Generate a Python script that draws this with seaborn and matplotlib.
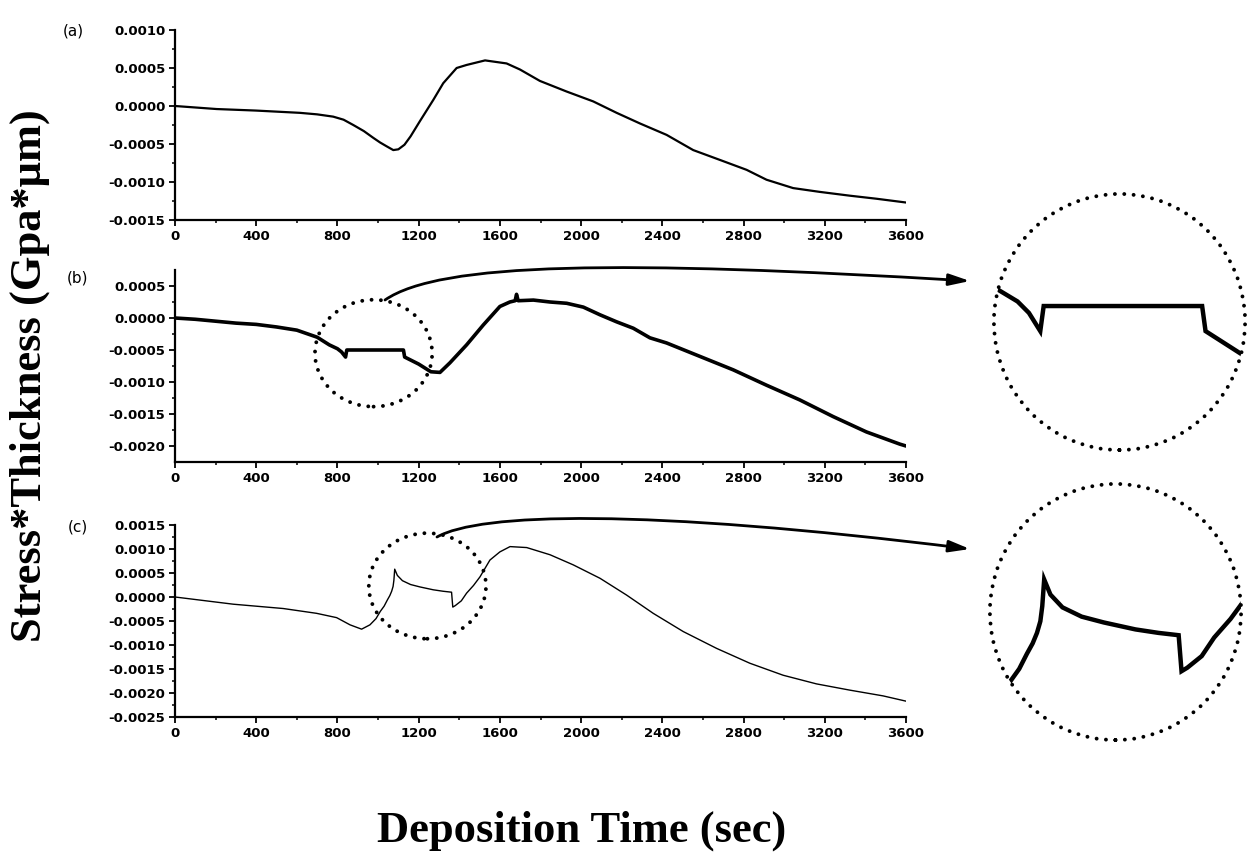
import numpy as np
import matplotlib
matplotlib.use("Agg")
import matplotlib.pyplot as plt
import seaborn as sns
from matplotlib.patches import Ellipse, FancyArrowPatch
from matplotlib.path import Path

# ---------------- data ----------------
time_a = [0, 205, 398, 615, 700, 779, 830, 878, 930, 977, 1010, 1042, 1075, 1100, 1130, 1160,
          1206, 1272, 1321, 1387, 1436, 1527, 1633, 1699, 1797, 1929, 2060, 2175, 2290, 2421,
          2552, 2684, 2815, 2913, 3044, 3175, 3323, 3454, 3600]
stress_a = [0, -0.00004, -0.00006, -0.00009, -0.00011, -0.00014, -0.00018, -0.00025, -0.00033,
            -0.00042, -0.00048, -0.00053, -0.00058, -0.00057, -0.00051, -0.00040,
            -0.00020, 0.00008, 0.00030, 0.00050, 0.00054, 0.00060, 0.00056, 0.00048, 0.00033,
            0.00019, 0.00006, -0.00009, -0.00023, -0.00038,
            -0.00058, -0.00071, -0.00084, -0.00097, -0.00108, -0.00113, -0.00118, -0.00122,
            -0.00127]

time_b = [0, 100, 200, 300, 400, 500, 600, 700, 760, 800, 820, 840, 846, 900, 1000, 1100, 1125,
          1131, 1200, 1260, 1305, 1354, 1436, 1518, 1600, 1649, 1675, 1682, 1690, 1765, 1847,
          1929, 2011, 2093, 2175, 2257, 2339, 2421, 2585, 2749, 2913, 3077, 3241, 3405, 3569, 3600]
stress_b = [0, -0.00002, -0.00005, -0.00008, -0.00010, -0.00014, -0.00019, -0.00030, -0.00042,
            -0.00048, -0.00053, -0.00061, -0.00050, -0.00050, -0.00050, -0.00050, -0.00050,
            -0.00061, -0.00072, -0.00084, -0.00085, -0.00070, -0.00042, -0.00011, 0.00018,
            0.00025, 0.00027, 0.00037, 0.00027, 0.00028, 0.00025,
            0.00023, 0.00017, 0.00005, -0.00006, -0.00016, -0.00031, -0.00039, -0.00060,
            -0.00081, -0.00105, -0.00128, -0.00154, -0.00178, -0.00197, -0.00200]

time_c = [0, 287, 533, 697, 796, 862, 919, 960, 990, 1011, 1030, 1046, 1058, 1067, 1074, 1078,
          1082, 1095, 1120, 1160, 1206, 1272, 1320, 1362, 1368, 1380, 1410, 1436, 1470, 1502,
          1551, 1600, 1650, 1732, 1847, 1961, 2093,
          2224, 2355, 2503, 2667, 2831, 2995, 3159, 3323, 3487, 3600]
stress_c = [0, -0.00015, -0.00024, -0.00034, -0.00043, -0.00058, -0.00067, -0.00058, -0.00045,
            -0.00030, -0.00019, -0.00006, 0.00003, 0.00012, 0.00022, 0.00035,
            0.00058, 0.00045, 0.00034, 0.00026, 0.00021, 0.00015, 0.00012, 0.00010, -0.00021,
            -0.00018, -0.00008, 0.00008, 0.00024, 0.00042,
            0.00077, 0.00094, 0.00105, 0.00103, 0.00088, 0.00067, 0.00039,
            0.00004, -0.00034, -0.00072, -0.00107, -0.00138, -0.00163, -0.00181, -0.00194,
            -0.00206, -0.00217]

x_ticks = [0, 400, 800, 1200, 1600, 2000, 2400, 2800, 3200, 3600]
x_tick_labels = ["0", "400", "800", "1200", "1600", "2000", "2400", "2800", "3200", "3600"]

y_ticks_a = [0.0010, 0.0005, 0.0, -0.0005, -0.0010, -0.0015]
y_labels_a = ["0.0010", "0.0005", "0.0000", "-0.0005", "-0.0010", "-0.0015"]
y_ticks_b = [0.0005, 0.0, -0.0005, -0.0010, -0.0015, -0.0020]
y_labels_b = ["0.0005", "0.0000", "-0.0005", "-0.0010", "-0.0015", "-0.0020"]
y_ticks_c = [0.0015, 0.0010, 0.0005, 0.0, -0.0005, -0.0010, -0.0015, -0.0020, -0.0025]
y_labels_c = ["0.0015", "0.0010", "0.0005", "0.0000", "-0.0005", "-0.0010", "-0.0015",
              "-0.0020", "-0.0025"]

panel_labels = ["(a)", "(b)", "(c)"]
y_title = "Stress*Thickness (Gpa*\u03bcm)"
x_title = "Deposition Time (sec)"

# ---------------- figure ----------------
sns.set_style("ticks")
plt.rcParams["font.family"] = ["DejaVu Sans"]
plt.rcParams["text.color"] = "black"

W, H = 1248, 855
fig = plt.figure(figsize=(W / 100, H / 100), dpi=100)


def fx(px):
    return px / W


def fy(py):
    return 1 - py / H


def make_axes(top, bottom):
    return fig.add_axes([fx(175), fy(bottom), fx(906) - fx(175), (bottom - top) / H])


panels = [
    (make_axes(30, 220), time_a, stress_a, (-0.0015, 0.0010), y_ticks_a, y_labels_a, 1.6),
    (make_axes(270, 462), time_b, stress_b, (-0.00225, 0.00075), y_ticks_b, y_labels_b, 2.6),
    (make_axes(525, 717), time_c, stress_c, (-0.0025, 0.0015), y_ticks_c, y_labels_c, 1.0),
]

for ax, t, s, ylim, yt, yl, lw in panels:
    sns.lineplot(x=t, y=s, ax=ax, color="black", lw=lw, estimator=None, sort=False)
    ax.set_xlim(0, 3600)
    ax.set_ylim(*ylim)
    ax.set_xticks(x_ticks)
    ax.set_xticklabels(x_tick_labels, fontweight="bold", fontsize=9.5, color="black")
    ax.set_yticks(yt)
    ax.set_yticklabels(yl, fontweight="bold", fontsize=9.5, color="black")
    ax.set_xticks(np.arange(200, 3600, 400), minor=True)
    ax.tick_params(which="major", direction="out", length=4, width=1.3, pad=3, colors="black")
    ax.tick_params(which="minor", direction="out", length=2.5, width=1.1, colors="black")
    for sp in ["top", "right"]:
        ax.spines[sp].set_visible(False)
    for sp in ["left", "bottom"]:
        ax.spines[sp].set_linewidth(1.6)
        ax.spines[sp].set_color("black")
    ax.set_xlabel("")
    ax.set_ylabel("")
    ax.patch.set_alpha(0)

ax_a, ax_b, ax_c = panels[0][0], panels[1][0], panels[2][0]

# minor y ticks midway between majors
ax_a.set_yticks(np.arange(-0.00125, 0.0010, 0.0005), minor=True)
ax_b.set_yticks(np.arange(-0.00175, 0.00075, 0.0005), minor=True)
ax_c.set_yticks(np.arange(-0.00225, 0.0015, 0.0005), minor=True)

dot_style = dict(fill=False, edgecolor="black", lw=2.8, linestyle=(0, (0.01, 2.4)), capstyle="round")

# dotted circles in main panels (data coordinates)
ax_b.add_patch(Ellipse((978, -0.00055), 577, 0.00167, clip_on=False, **dot_style))
ax_c.add_patch(Ellipse((1243, 0.00023), 577, 0.0022, clip_on=False, **dot_style))

# panel labels
for lab, (px, py) in zip(panel_labels, [(63, 31), (67, 278), (68, 527)]):
    fig.text(fx(px), fy(py), lab, fontsize=11, va="center", ha="left", color="black")


# inset zooms (same data, magnified)
def inset(left, top, xlim, ylim, t, s):
    ax = fig.add_axes([fx(left), fy(top + 260), 255 / W, 260 / H])
    sns.lineplot(x=t, y=s, ax=ax, color="black", lw=3.2, estimator=None, sort=False)
    ax.set_xlim(*xlim)
    ax.set_ylim(*ylim)
    ax.axis("off")
    circ = Ellipse((0.5, 0.5), 0.985, 0.985, transform=ax.transAxes, clip_on=False, **dot_style)
    ax.add_patch(circ)
    clip = Ellipse((0.5, 0.5), 0.985, 0.985, transform=ax.transAxes, visible=False)
    ax.add_patch(clip)
    for ln in ax.lines:
        ln.set_clip_path(clip)
        ln.set_solid_joinstyle("miter")
    return ax


inset(992, 192, (755, 1204), (-0.00114, 0.0), time_b, stress_b)
inset(988, 482, (965, 1496), (-0.00082, 0.00142), time_c, stress_c)


# curved arrows
def curved_arrow(p0, p1, p2, p3):
    verts = [(fx(p0[0]), fy(p0[1])), (fx(p1[0]), fy(p1[1])),
             (fx(p2[0]), fy(p2[1])), (fx(p3[0]), fy(p3[1]))]
    path = Path(verts, [Path.MOVETO, Path.CURVE4, Path.CURVE4, Path.CURVE4])
    arr = FancyArrowPatch(path=path, arrowstyle="-|>,head_length=0.9,head_width=0.25",
                          mutation_scale=14, lw=2.0, color="black", transform=fig.transFigure)
    fig.add_artist(arr)


curved_arrow((385, 300), (440, 262), (620, 260), (970, 281))
curved_arrow((437, 537), (480, 513), (640, 508), (970, 549))

# titles
fig.text(fx(30), fy(376), y_title, rotation=90, ha="center", va="center", color="black",
         fontsize=32, fontweight="bold", family=["Liberation Serif", "DejaVu Serif"])
fig.text(fx(582), fy(842), x_title, ha="center", va="baseline", color="black",
         fontsize=32, fontweight="bold", family=["Liberation Serif", "DejaVu Serif"])

fig.savefig("out.png", dpi=100, facecolor="white")
